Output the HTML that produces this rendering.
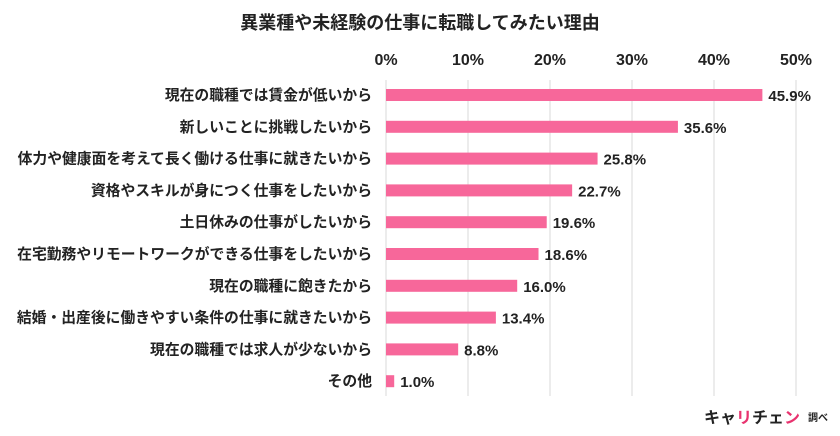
<!DOCTYPE html>
<html><head><meta charset="utf-8"><style>
body{margin:0;background:#fff;width:840px;height:431px;overflow:hidden;font-family:"Liberation Sans","Noto Sans CJK JP",sans-serif}
</style></head><body>
<svg id="c" width="840" height="431" font-family="Liberation Sans, Noto Sans CJK JP, sans-serif">
<text x="420" y="29" text-anchor="middle" font-size="18" font-weight="bold" fill="#222">異業種や未経験の仕事に転職してみたい理由</text>
<g id="grid"></g><g id="bars"></g>
<g>
<text x="704" y="423" font-size="16" font-weight="bold" fill="#222">キャ<tspan fill="#e8336f">リ</tspan>チェ<tspan fill="#e8336f">ン</tspan></text>
<text x="808" y="421" font-size="10" font-weight="bold" fill="#222">調べ</text>
</g>
</svg>
<script>
const categories=["現在の職種では賃金が低いから","新しいことに挑戦したいから","体力や健康面を考えて長く働ける仕事に就きたいから","資格やスキルが身につく仕事をしたいから","土日休みの仕事がしたいから","在宅勤務やリモートワークができる仕事をしたいから","現在の職種に飽きたから","結婚・出産後に働きやすい条件の仕事に就きたいから","現在の職種では求人が少ないから","その他"];
const values=[45.9,35.6,25.8,22.7,19.6,18.6,16.0,13.4,8.8,1.0];
const ticks=[0,10,20,30,40,50];
const ns="http://www.w3.org/2000/svg";
const x=v=>386+v*8.2;
const y=i=>95+i*31.8;
function mk(t,a,p){const e=document.createElementNS(ns,t);for(const k in a)e.setAttribute(k,a[k]);p.appendChild(e);return e;}
const g=document.getElementById('grid'),b=document.getElementById('bars');
ticks.forEach(t=>{
 const l=mk('line',{x1:x(t),x2:x(t),y1:80,y2:396,stroke:'#d9d9d9','stroke-width':1},g);
 
 
 const tx=mk('text',{x:x(t),y:65,'text-anchor':'middle','font-size':16,'font-weight':'bold',fill:'#222'},g);
 tx.textContent=t+'%';
 
 
});
values.forEach((v,i)=>{
 const r=mk('rect',{x:x(0),y:y(i)-6,width:x(v)-x(0),height:12,fill:'#f7679a'},b);
 
 
 const lb=mk('text',{x:x(v)+6,y:y(i)+6,'font-size':15,'font-weight':'bold',fill:'#222'},b);
 lb.textContent=v.toFixed(1)+'%';
 
 
 const c=mk('text',{x:372,y:y(i)+5,'text-anchor':'end','font-size':14.8,'font-weight':'bold',fill:'#222'},b);
 c.textContent=categories[i];
 
 
});
</script>
</body></html>
